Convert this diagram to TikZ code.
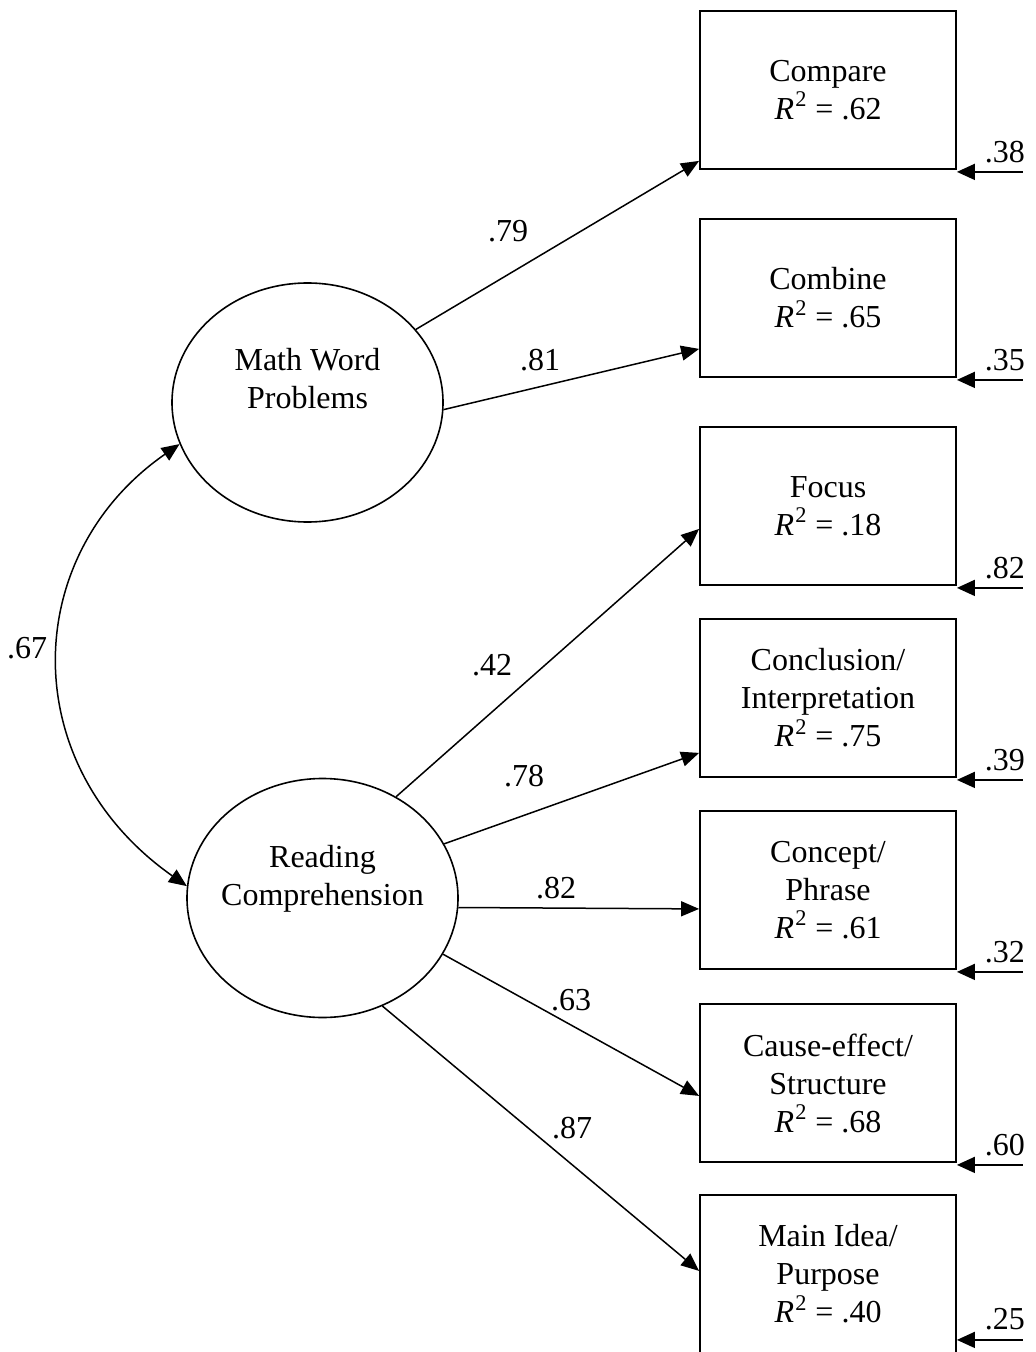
\documentclass[tikz,border=0pt]{standalone}
\usepackage{fontspec}
\setmainfont{Liberation Serif}
\usetikzlibrary{arrows.meta,calc,shapes.geometric}
\begin{document}
\begin{tikzpicture}[x=0.5pt,y=-0.5pt,
  every node/.style={font=\fontsize{16}{19}\selectfont},
  box/.style={draw,line width=0.9pt,minimum width=128pt,minimum height=79pt,inner sep=0pt,align=center},
  latent/.style={draw,ellipse,line width=0.8pt,minimum width=135.5pt,minimum height=119.5pt,inner sep=0pt},
  ltext/.style={align=center,inner sep=0pt},
  lbl/.style={inner sep=0pt},
  load/.style={line width=0.75pt,-{Triangle[length=9pt,width=7.5pt]}},
  cov/.style={line width=0.75pt,{Triangle[length=9pt,width=7.5pt]}-{Triangle[length=9pt,width=7.5pt]}},
  err/.style={line width=0.85pt,-{Triangle[length=9pt,width=8pt]}}
]
\useasboundingbox (0,0) rectangle (1035,1352);
\fill[white] (0,0) rectangle (1035,1352);

% latent variables
\node[latent] (mwp) at (307.5,402.5) {};
\node[ltext] (mwpt) at (307.5,379) {Math Word\\Problems};
\node[latent] (rc) at (322.5,898) {};
\node[ltext] (rct) at (322.5,879) {Reading\\Comprehension};

% observed variables
\newcommand{\rsq}[1]{\textit{R}\kern0.6pt\textsuperscript{2} = #1}
\node[box] (b1) at (828,90)   {Compare\\\rsq{.62}};
\node[box] (b2) at (828,298)  {Combine\\\rsq{.65}};
\node[box] (b3) at (828,506)  {Focus\\\rsq{.18}};
\node[box] (b4) at (828,698)  {Conclusion/\\Interpretation\\\rsq{.75}};
\node[box] (b5) at (828,890)  {Concept/\\Phrase\\\rsq{.61}};
\node[box] (b6) at (828,1083) {Cause-effect/\\Structure\\\rsq{.68}};
\node[box] (b7) at (828,1274) {Main Idea/\\Purpose\\\rsq{.40}};

% loadings
\draw[load] (mwp.34.9) -- ($(b1.south west)+(0,-9)$);
\draw[load] (mwp.-3.2) -- ($(b2.south west)+(0,-29)$);
\draw[load] (rc.54.6)  -- ($(b3.south west)+(0,-57)$);
\draw[load] (rc.24.5)  -- ($(b4.south west)+(0,-25)$);
\draw[load] (rc.-4.3)  -- ($(b5.south west)+(0,-61)$);
\draw[load] (rc.-25.3) -- ($(b6.south west)+(0,-67)$);
\draw[load] (rc.-61.5) -- ($(b7.south west)+(0,-83)$);

\node[lbl] (l1) at (508,231)  {.79};
\node[lbl] (l2) at (540,360)  {.81};
\node[lbl] (l3) at (492,665)  {.42};
\node[lbl] (l4) at (524,776)  {.78};
\node[lbl] (l5) at (556,888)  {.82};
\node[lbl] (l6) at (571,1000) {.63};
\node[lbl] (l7) at (572,1128) {.87};

% covariance
\draw[cov] (mwp.198.8) .. controls (20,555) and (15,765) .. (rc.175.7);
\node[lbl] (lc) at (27,648) {.67};

% error terms
\foreach \b/\v in {b1/.38,b2/.35,b3/.82,b4/.39,b5/.32,b6/.60} {
  \coordinate (e\b) at ($(\b.south east)+(66,2)$);
  \draw[err] (e\b) -- ($(\b.south east)+(0,2)$);
  \node[lbl] (n\b) at ($(\b.south east)+(48,-18)$) {\v};
}
\coordinate (eb7) at ($(b7.south east)+(66,-14)$);
\draw[err] (eb7) -- ($(b7.south east)+(0,-14)$);
\node[lbl] (nb7) at ($(b7.south east)+(48,-35)$) {.25};
\end{tikzpicture}
\end{document}
